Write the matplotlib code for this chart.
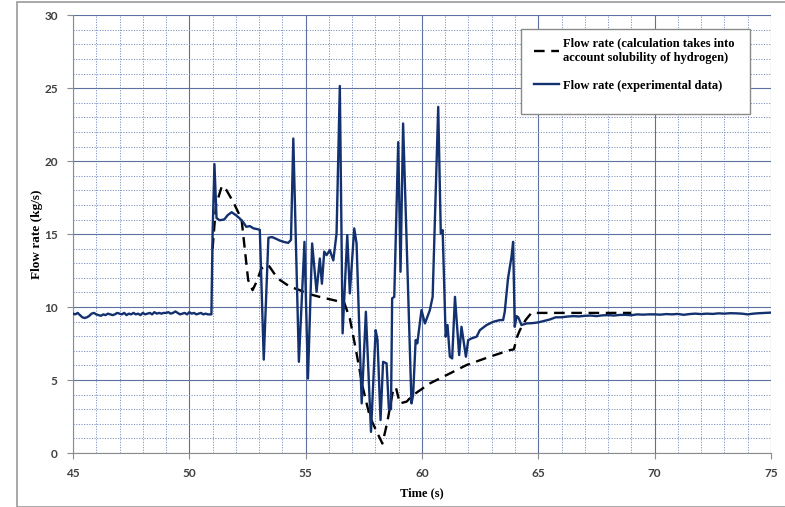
import numpy as np
import matplotlib
matplotlib.use('Agg')
import matplotlib.pyplot as plt
from matplotlib.ticker import MultipleLocator
from matplotlib.patches import Rectangle

# experimental flow rate: steady part before the event (every 0.1 s from 45.0 s)
base_q = [9.55, 9.5, 9.6, 9.45, 9.3, 9.25, 9.3, 9.4, 9.55, 9.6,
          9.5, 9.45, 9.4, 9.5, 9.45, 9.55, 9.5, 9.45, 9.5, 9.6,
          9.55, 9.5, 9.6, 9.45, 9.55, 9.5, 9.6, 9.5, 9.55, 9.45,
          9.6, 9.5, 9.55, 9.6, 9.5, 9.65, 9.55, 9.6, 9.55, 9.6,
          9.6, 9.65, 9.55, 9.6, 9.7, 9.6, 9.5, 9.55, 9.6, 9.5,
          9.65, 9.55, 9.6, 9.5, 9.55, 9.6, 9.5, 9.55, 9.5, 9.5]
base_t = np.round(45.0 + 0.1 * np.arange(len(base_q)), 2)

# experimental flow rate during the transient
event_t = [50.95, 51.0, 51.08, 51.17, 51.3, 51.5, 51.65, 51.82, 52.0, 52.15,
           52.3, 52.45, 52.6, 52.75, 52.9, 53.03, 53.2, 53.4, 53.55, 53.7,
           53.9, 54.1, 54.25, 54.37, 54.47, 54.71, 54.95, 55.1, 55.28, 55.47,
           55.61, 55.7, 55.8, 55.9, 56.04, 56.19, 56.33, 56.47, 56.59, 56.79,
           56.9, 57.09, 57.19, 57.41, 57.59, 57.81, 58.01, 58.09, 58.22, 58.33,
           58.48, 58.58, 58.67, 58.72, 58.81, 58.98, 59.08, 59.19, 59.55, 59.62,
           59.73, 59.8, 59.98, 60.13, 60.34, 60.46, 60.7, 60.81, 60.89, 61.02,
           61.1, 61.2, 61.3, 61.42, 61.6, 61.7, 61.89, 61.99, 62.13, 62.35,
           62.49, 62.78, 63.06, 63.35, 63.49, 63.56, 63.7, 63.85, 63.92, 63.99,
           64.07, 64.14, 64.28, 64.5, 64.75]
event_q = [9.5, 15.0, 19.8, 16.1, 15.95, 16.0, 16.3, 16.5, 16.3, 16.1,
           15.85, 15.5, 15.55, 15.4, 15.35, 15.3, 6.4, 14.75, 14.8, 14.7,
           14.55, 14.45, 14.4, 14.6, 21.55, 6.25, 14.47, 5.1, 14.36, 11.05,
           13.33, 11.6, 13.8, 13.56, 13.9, 13.2, 15.05, 25.15, 8.2, 14.93,
           10.94, 15.39, 14.36, 3.4, 9.68, 1.45, 8.42, 7.74, 2.26, 6.25,
           6.14, 2.99, 3.0, 10.6, 10.7, 21.3, 12.42, 22.58, 3.4, 3.97,
           7.74, 7.51, 9.79, 8.88, 9.79, 10.7, 23.72, 15.05, 15.27, 7.97,
           8.77, 6.6, 6.48, 10.7, 6.71, 8.65, 6.6, 7.74, 7.85, 7.97,
           8.42, 8.77, 8.99, 9.11, 9.11, 9.68, 11.96, 13.45, 14.47, 8.65,
           9.38, 9.3, 8.77, 8.88, 8.9]

# experimental flow rate: recovery (every 0.25 s from 65.0 s)
tail_q = [8.95, 9.05, 9.15, 9.3, 9.3, 9.35, 9.38, 9.36, 9.4, 9.42,
          9.38, 9.43, 9.45, 9.42, 9.46, 9.47, 9.44, 9.5, 9.48, 9.5,
          9.5, 9.48, 9.52, 9.5, 9.53, 9.47, 9.52, 9.55, 9.52, 9.55,
          9.53, 9.57, 9.55, 9.58, 9.57, 9.55, 9.5, 9.55, 9.58, 9.6, 9.62]
tail_t = np.round(65.0 + 0.25 * np.arange(len(tail_q)), 2)

exp_t = np.concatenate([base_t, event_t, tail_t])
exp_q = np.concatenate([base_q, event_q, tail_q])

# calculated flow rate (hydrogen solubility taken into account)
calc_t = [51.0, 51.15, 51.4, 51.6, 51.89, 52.1, 52.25, 52.39, 52.53, 52.72,
          52.89, 53.1, 53.4, 53.65, 53.9, 54.33, 54.75, 55.04, 55.6, 56.19,
          56.66, 56.9, 57.19, 57.45, 57.76, 58.02, 58.3, 58.5, 58.76, 58.88,
          59.05, 59.34, 59.62, 60.34, 61.06, 61.92, 62.92, 63.78, 63.95, 64.1,
          64.21, 64.45, 64.71, 65.0, 67.0, 69.0]
calc_q = [14.0, 17.0, 18.3, 18.0, 17.2, 16.5, 15.96, 13.9, 11.85, 11.16,
          11.73, 12.65, 12.88, 12.3, 11.85, 11.39, 11.16, 10.94, 10.7, 10.48,
          10.3, 9.22, 6.83, 4.54, 2.49, 1.58, 0.65, 2.03, 4.3, 4.5,
          3.4, 3.52, 3.97, 4.77, 5.34, 6.03, 6.6, 7.05, 7.1, 8.0,
          8.42, 9.1, 9.61, 9.6, 9.6, 9.6]

serif = 'Liberation Serif'
tick_font = 'Lato'

fig = plt.figure(figsize=(7.85, 5.07), dpi=100)
ax = fig.add_axes([0.093, 0.1065, 0.889, 0.8635])

# outer frame of the picture
fig.patches.append(Rectangle((17 / 785, 0.5 / 507), 1.2, 504.5 / 507,
                             transform=fig.transFigure, fill=False,
                             edgecolor='#9a9a9a', linewidth=1.2))

ax.plot(calc_t, calc_q, color='black', lw=1.7, dashes=(4.5, 2.8),
        label='Flow rate (calculation takes into\naccount solubility of hydrogen)', zorder=3)
ax.plot(exp_t, exp_q, color='#13306f', lw=1.7,
        label='Flow rate (experimental data)', zorder=4)

ax.set_xlim(45, 75)
ax.set_ylim(0, 30)
ax.xaxis.set_major_locator(MultipleLocator(5))
ax.xaxis.set_minor_locator(MultipleLocator(1))
ax.yaxis.set_major_locator(MultipleLocator(5))
ax.yaxis.set_minor_locator(MultipleLocator(1))

ax.grid(which='major', color='#5d70a0', lw=0.8, linestyle='-')
ax.grid(which='minor', color='#7f93c2', lw=0.7, linestyle=(0, (1.2, 1.5)))
ax.set_axisbelow(True)

for s in ['top', 'right']:
    ax.spines[s].set_visible(False)
ax.spines['left'].set_color('#8c8c8c')
ax.spines['bottom'].set_color('#8c8c8c')

ax.tick_params(which='major', length=4, color='#8c8c8c', pad=7,
               labelsize=8.5, labelcolor='#404040')
ax.tick_params(which='minor', length=0)
for lab in ax.get_xticklabels() + ax.get_yticklabels():
    lab.set_family(tick_font)
    lab.set_fontweight('bold')

ax.set_xlabel('Time (s)', family=serif, fontweight='bold', fontsize=9, labelpad=6)
ax.set_ylabel('Flow rate (kg/s)', family=serif, fontweight='bold', fontsize=9.5, labelpad=1)

# legend box (drawn separately: it has extra room below the entries)
ax.add_patch(Rectangle((0.642, 0.774), 0.328, 0.194, transform=ax.transAxes,
                       facecolor='white', edgecolor='#8a8a8a', lw=1.0, zorder=5))
leg = ax.legend(loc='upper left', bbox_to_anchor=(0.643, 0.977),
                prop={'family': serif, 'weight': 'bold', 'size': 9},
                frameon=False, handlelength=2.0, handletextpad=0.3,
                labelspacing=1.3, borderpad=1.0, borderaxespad=0)
leg.set_zorder(6)

fig.savefig('out.png', dpi=100)
